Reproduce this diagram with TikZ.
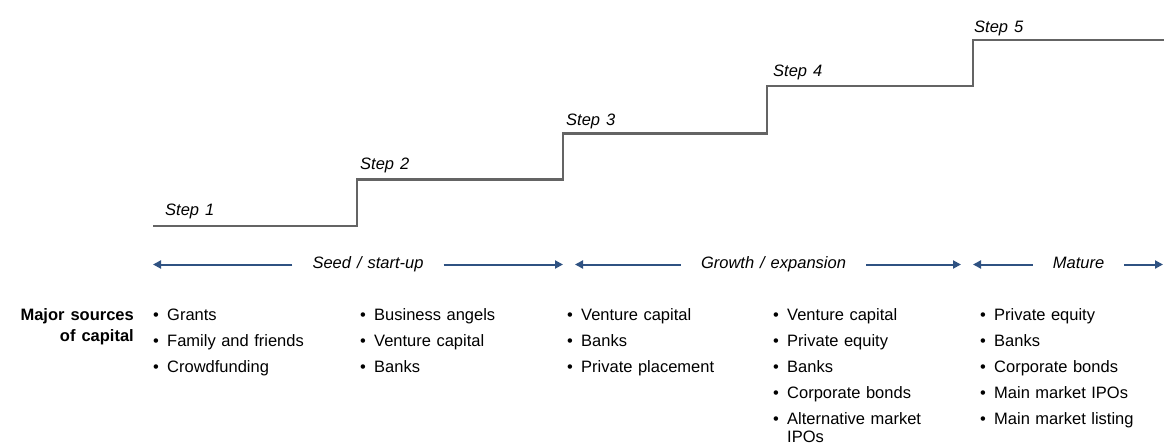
\documentclass[tikz,border=0pt]{standalone}
\usepackage{fontspec}
\setmainfont{Liberation Sans}[WordSpace=1.3]
\usetikzlibrary{positioning, arrows.meta}
\definecolor{stairgray}{RGB}{100,100,100}
\definecolor{phaseblue}{RGB}{47,82,130}
\newcommand{\capbullet}{\makebox[14pt][l]{\textbullet}}

\begin{document}
\begin{tikzpicture}[
    x=1pt, y=-1pt,
    stairlbl/.style={font=\fontsize{16.5}{20}\selectfont\itshape, inner sep=0pt, anchor=base west},
    phase/.style={font=\fontsize{16.5}{20}\selectfont\itshape, inner xsep=20pt, inner ysep=0pt,
      text height=10pt, text depth=2pt},
    phasearrow/.style={draw=phaseblue, line width=2pt, -{Triangle[length=8pt, width=8pt]}},
    srcitem/.style={font=\fontsize{16.5}{20}\selectfont, text width=190pt, align=left,
      inner sep=0pt, text height=12pt, text depth=4pt},
    srclbl/.style={font=\fontsize{16.5}{21}\selectfont\bfseries, align=right, inner sep=0pt},
    node distance=9.8pt,
  ]
  \useasboundingbox (0,0) rectangle (1164,444);

  % staircase
  \draw[stairgray, line width=2.8pt] (153,226) -- (357,226) -- (357,179.5) -- (563,179.5)
    -- (563,133.5) -- (767,133.5) -- (767,86) -- (973,86) -- (973,40) -- (1164,40);
  \node[stairlbl] (step1) at (165,215) {Step 1};
  \node[stairlbl] (step2) at (360,169) {Step 2};
  \node[stairlbl] (step3) at (566,125) {Step 3};
  \node[stairlbl] (step4) at (773,76) {Step 4};
  \node[stairlbl] (step5) at (974,33) {Step 5};

  % phases
  \node[phase] (seed) at (368,264.5) {Seed / start-up};
  \node[phase] (growth) at (773.5,264.5) {Growth / expansion};
  \node[phase] (mature) at (1078.5,264.5) {Mature};
  \coordinate (seedL) at (153,264.5);
  \coordinate (seedR) at (563,264.5);
  \coordinate (growthL) at (575,264.5);
  \coordinate (growthR) at (961,264.5);
  \coordinate (matureL) at (973,264.5);
  \coordinate (matureR) at (1163,264.5);
  \draw[phasearrow] (seed.west) -- (seedL);
  \draw[phasearrow] (seed.east) -- (seedR);
  \draw[phasearrow] (growth.west) -- (growthL);
  \draw[phasearrow] (growth.east) -- (growthR);
  \draw[phasearrow] (mature.west) -- (matureL);
  \draw[phasearrow] (mature.east) -- (matureR);

  % sources of capital
  \node[srclbl, anchor=base east] (major) at (134,341) {Major sources\\of capital};

  \node[srcitem, anchor=base west] (c1a) at (153,320) {\capbullet Grants};
  \node[srcitem, below=of c1a] (c1b) {\capbullet Family and friends};
  \node[srcitem, below=of c1b] (c1c) {\capbullet Crowdfunding};

  \node[srcitem, anchor=base west] (c2a) at (360,320) {\capbullet Business angels};
  \node[srcitem, below=of c2a] (c2b) {\capbullet Venture capital};
  \node[srcitem, below=of c2b] (c2c) {\capbullet Banks};

  \node[srcitem, anchor=base west] (c3a) at (567,320) {\capbullet Venture capital};
  \node[srcitem, below=of c3a] (c3b) {\capbullet Banks};
  \node[srcitem, below=of c3b] (c3c) {\capbullet Private placement};

  \node[srcitem, anchor=base west] (c4a) at (773,320) {\capbullet Venture capital};
  \node[srcitem, below=of c4a] (c4b) {\capbullet Private equity};
  \node[srcitem, below=of c4b] (c4c) {\capbullet Banks};
  \node[srcitem, below=of c4c] (c4d) {\capbullet Corporate bonds};
  \node[srcitem, below=of c4d] (c4e) {\capbullet Alternative market};
  \node[srcitem, text depth=0pt, below=1pt of c4e] (c4f) {\hphantom{\capbullet}IPOs};

  \node[srcitem, anchor=base west] (c5a) at (980,320) {\capbullet Private equity};
  \node[srcitem, below=of c5a] (c5b) {\capbullet Banks};
  \node[srcitem, below=of c5b] (c5c) {\capbullet Corporate bonds};
  \node[srcitem, below=of c5c] (c5d) {\capbullet Main market IPOs};
  \node[srcitem, below=of c5d] (c5e) {\capbullet Main market listing};
\end{tikzpicture}
\end{document}
